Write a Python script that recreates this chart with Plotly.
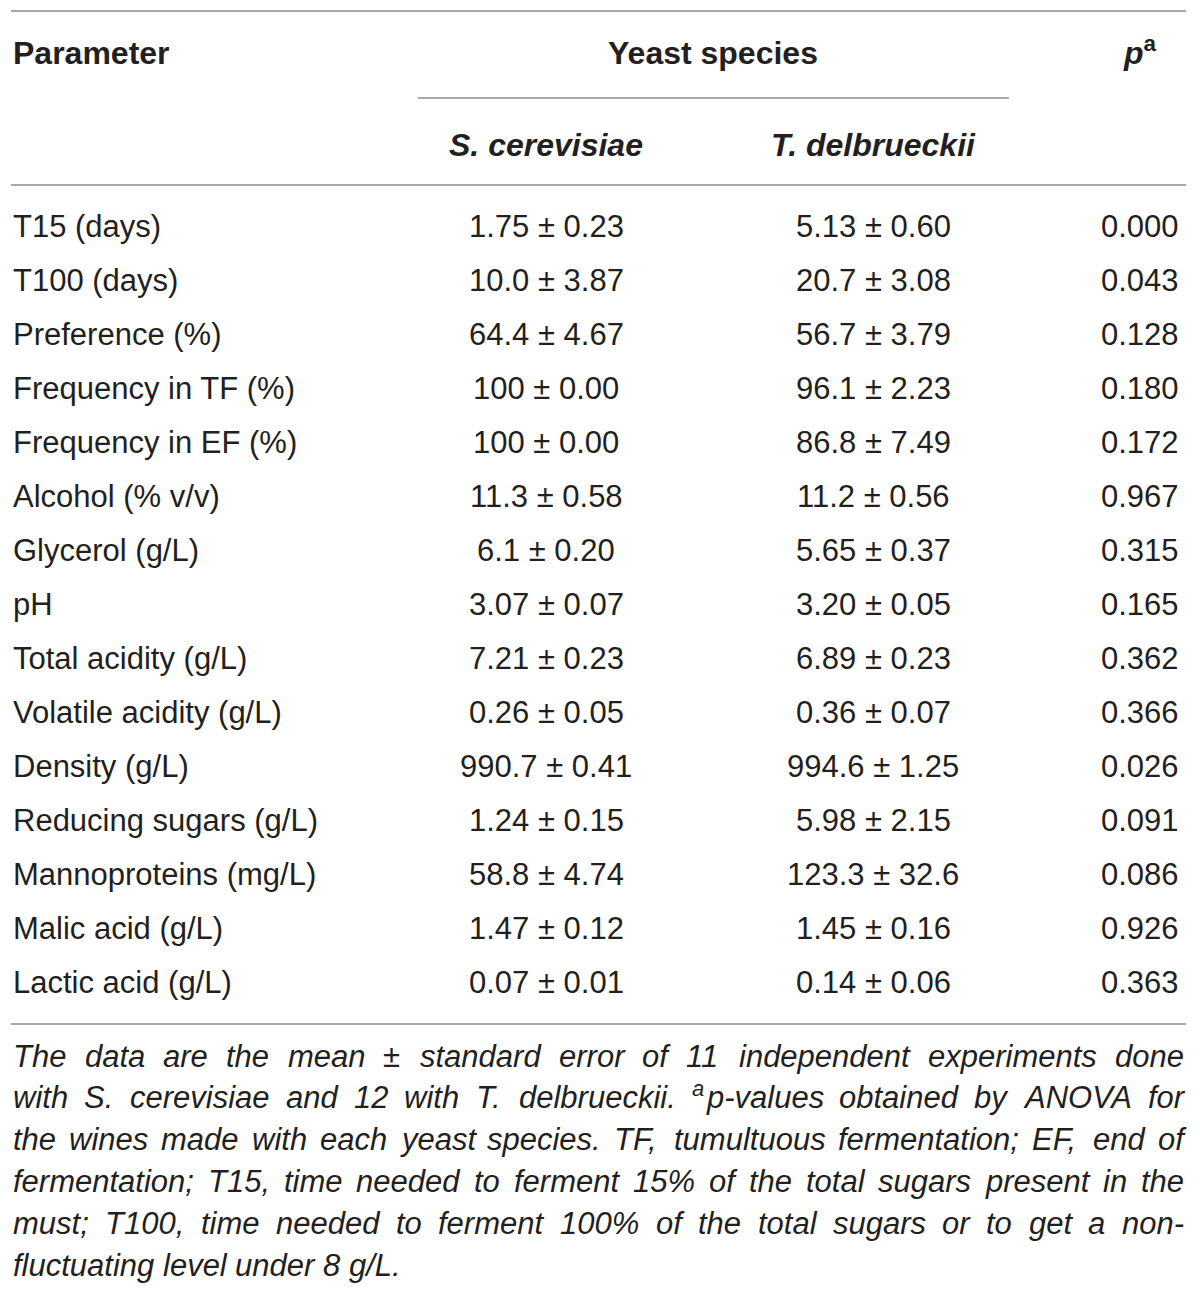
#import libraries
import plotly.graph_objects as go

# Table content
parameters = ["T15 (days)", "T100 (days)", "Preference (%)", "Frequency in TF (%)",
              "Frequency in EF (%)", "Alcohol (% v/v)", "Glycerol (g/L)", "pH",
              "Total acidity (g/L)", "Volatile acidity (g/L)", "Density (g/L)",
              "Reducing sugars (g/L)", "Mannoproteins (mg/L)", "Malic acid (g/L)",
              "Lactic acid (g/L)"]
sc_mean = ["1.75", "10.0", "64.4", "100", "100", "11.3", "6.1", "3.07", "7.21",
           "0.26", "990.7", "1.24", "58.8", "1.47", "0.07"]
sc_se = ["0.23", "3.87", "4.67", "0.00", "0.00", "0.58", "0.20", "0.07", "0.23",
         "0.05", "0.41", "0.15", "4.74", "0.12", "0.01"]
td_mean = ["5.13", "20.7", "56.7", "96.1", "86.8", "11.2", "5.65", "3.20", "6.89",
           "0.36", "994.6", "5.98", "123.3", "1.45", "0.14"]
td_se = ["0.60", "3.08", "3.79", "2.23", "7.49", "0.56", "0.37", "0.05", "0.23",
         "0.07", "1.25", "2.15", "32.6", "0.16", "0.06"]
p_values = ["0.000", "0.043", "0.128", "0.180", "0.172", "0.967", "0.315", "0.165",
            "0.362", "0.366", "0.026", "0.091", "0.086", "0.926", "0.363"]
species = ["S. cerevisiae", "T. delbrueckii"]

# footnote, one entry per printed line (last line is not justified)
# "^a" marks a superscript a in front of a word
footnote_lines = [
    "The data are the mean ± standard error of 11 independent experiments done",
    "with S. cerevisiae and 12 with T. delbrueckii. ^ap-values obtained by ANOVA for",
    "the wines made with each yeast species. TF, tumultuous fermentation; EF, end of",
    "fermentation; T15, time needed to ferment 15% of the total sugars present in the",
    "must; T100, time needed to ferment 100% of the total sugars or to get a non-",
    "fluctuating level under 8 g/L.",
]

# page geometry (pixels); the page body has an 8px margin, so the axes
# start at 8 to keep page pixels and axis units the same
W, H = 1200, 1298
OFF = 8
LEFT, RIGHT = 12, 1183
TEXT = "#231f20"
RULE = "#8c8c8c"
FONT = "Liberation Sans"
HEAD_SIZE, BODY_SIZE, FOOT_SIZE = 32, 31, 31

col_x = [546, 873, 1140]          # centres of the value columns
first_row, row_step = 226, 54.07
row_y = [first_row + row_step * i for i in range(len(parameters))]

fig = go.Figure()
fig.update_xaxes(range=[OFF, W], visible=False, fixedrange=True)
fig.update_yaxes(range=[H, OFF], visible=False, fixedrange=True)

ann = []


def cell(text, x, y, anchor="center", size=BODY_SIZE):
    ann.append(dict(x=x, y=y, xref="x", yref="y", text=text, showarrow=False,
                    xanchor=anchor, yanchor="middle", borderpad=0,
                    font=dict(family=FONT, size=size, color=TEXT)))


# header
cell("<b>Parameter</b>", LEFT, 53, "left", HEAD_SIZE)
cell("<b>Yeast species</b>", 713, 53, size=HEAD_SIZE)
cell("<b><i>p</i><sup>a</sup></b>", col_x[2], 51, size=HEAD_SIZE)
for name, cx in zip(species, col_x[:2]):
    cell("<b><i>" + name + "</i></b>", cx, 145, size=HEAD_SIZE)

# body rows
for i in range(len(parameters)):
    cell(parameters[i], LEFT, row_y[i], "left")
    cell(sc_mean[i] + " ± " + sc_se[i], col_x[0], row_y[i])
    cell(td_mean[i] + " ± " + td_se[i], col_x[1], row_y[i])
    cell(p_values[i], col_x[2], row_y[i])

# horizontal rules
rules = [(11, 11, 1186), (98, 418, 1009), (185, 11, 1186), (1024, 11, 1186)]
for y, x0, x1 in rules:
    fig.add_shape(type="line", xref="x", yref="y", x0=x0, x1=x1, y0=y, y1=y,
                  line=dict(color=RULE, width=1.6))

# footnote: justified italic text, words placed with Arial/Liberation metrics
widths = {" ": 278, "(": 333, ")": 333, ",": 278, "-": 333, ".": 278, "/": 278,
          ":": 278, ";": 278, "%": 889, "±": 584,
          "A": 667, "E": 667, "F": 611, "L": 556, "N": 722, "O": 778, "S": 667,
          "T": 611, "V": 667,
          "a": 556, "b": 556, "c": 500, "d": 556, "e": 556, "f": 278, "g": 556,
          "h": 556, "i": 222, "j": 222, "k": 500, "l": 222, "m": 833, "n": 556,
          "o": 556, "p": 556, "q": 556, "r": 333, "s": 500, "t": 278, "u": 556,
          "v": 500, "w": 722, "x": 500, "y": 500, "z": 500}
sup_size = round(FOOT_SIZE * 0.7)


def text_width(word, size):
    return sum(widths.get(ch, 556) for ch in word) * size / 1000


def word_width(word):
    if word.startswith("^a"):
        return text_width("a", sup_size) + 1 + text_width(word[2:], FOOT_SIZE)
    return text_width(word, FOOT_SIZE)


def foot_word(text, x, y, size):
    ann.append(dict(x=x, y=y, xref="x", yref="y", text="<i>" + text + "</i>",
                    showarrow=False, xanchor="left", yanchor="middle", borderpad=0,
                    font=dict(family=FONT, size=size, color=TEXT)))


foot_y0, foot_step = 1056, 41.8
for k, line in enumerate(footnote_lines):
    words = line.split(" ")
    ws = [word_width(w) for w in words]
    if k < len(footnote_lines) - 1:
        gap = (RIGHT - LEFT - sum(ws)) / (len(words) - 1)
    else:
        gap = widths[" "] * FOOT_SIZE / 1000
    xpos = LEFT
    y = foot_y0 + foot_step * k
    for w, ww in zip(words, ws):
        if w.startswith("^a"):
            # superscript letter placed as its own small raised text
            foot_word("a", xpos, y - 9, sup_size)
            foot_word(w[2:], xpos + text_width("a", sup_size) + 1, y, FOOT_SIZE)
        else:
            foot_word(w, xpos, y, FOOT_SIZE)
        xpos += ww + gap

fig.update_layout(width=W - OFF, height=H - OFF, margin=dict(l=0, r=0, t=0, b=0),
                  paper_bgcolor="white", plot_bgcolor="white",
                  annotations=ann, showlegend=False)

fig.write_html("out.html")
